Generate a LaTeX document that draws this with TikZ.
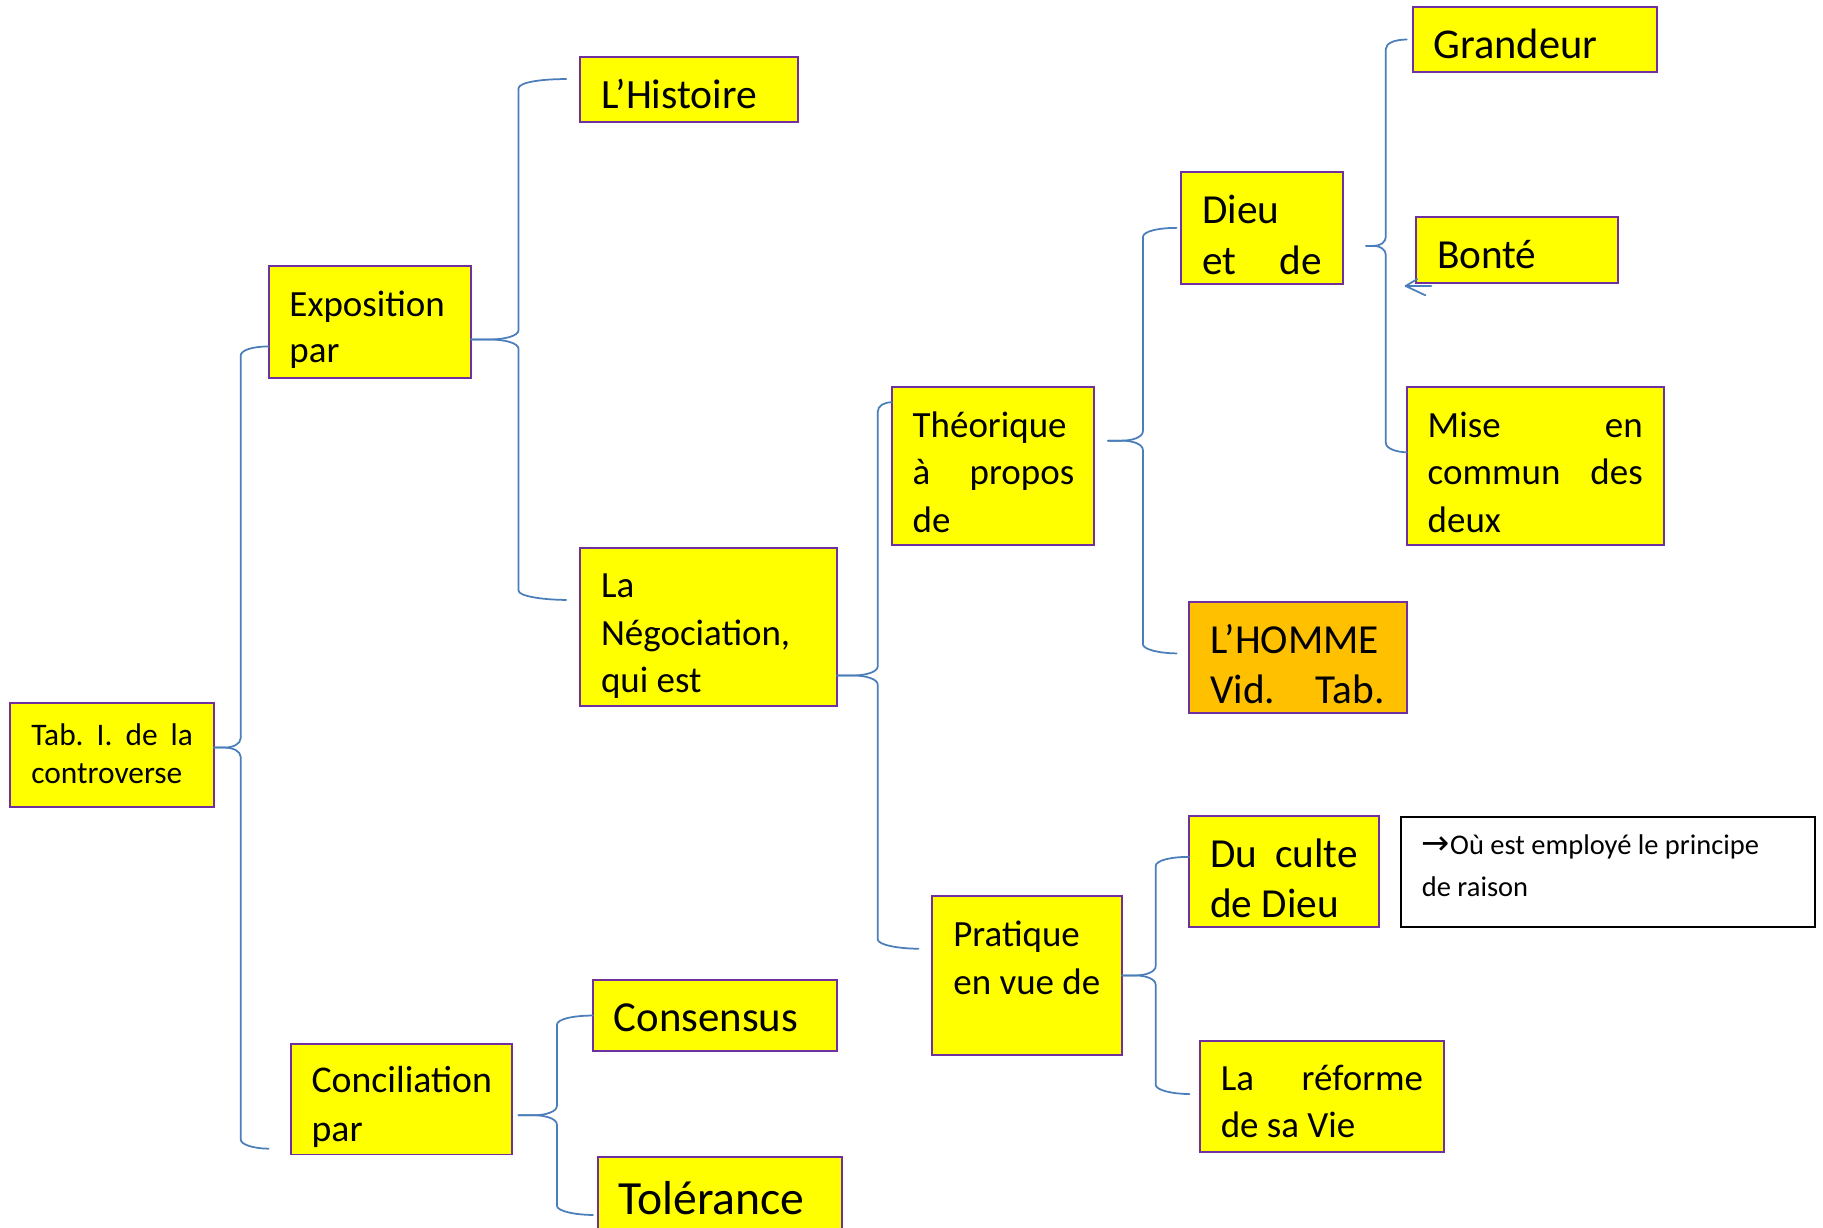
\documentclass[tikz,border=0pt]{standalone}
\usepackage{fontspec}
\setmainfont{Carlito}
\newfontfamily\symbolfont{DejaVu Sans}
\usetikzlibrary{calc}

\definecolor{boxyellow}{HTML}{FFFF00}
\definecolor{boxorange}{HTML}{FFC000}
\definecolor{framepurple}{HTML}{7030A0}
\definecolor{braceblue}{HTML}{4A7EBB}

% filled panel, given by its top-left and bottom-right corners
\newcommand\panel[6]{%
  \node[panel, fill=#2, minimum width={(#5-#3)*1pt}, minimum height={(#6-#4)*1pt}]
    (#1) at ({(#3+#5)/2},{(#4+#6)/2}) {};}

% text of a panel (clipped to it), then its frame
% #1 panel, #2 frame style, #3 size, #4 line skip, #5 #6 first baseline offset, #7 width, #8 text
\newcommand\paneltext[8]{%
  \begin{scope}
    \clip (#1.south west) rectangle (#1.north east);
    \node[anchor=base west, inner sep=0pt, outer sep=0pt, font=\fontsize{#3}{#4}\selectfont]
      (#1-text) at ($(#1.north west)+(#5,#6)$) {\parbox[t]{#7pt}{#8}};
  \end{scope}
  \draw[#2] (#1.south west) rectangle (#1.north east);}

% curly brace: #1 name, #2 parent node, #3 gap to tip, #4 spine offset, #5 top arm end, #6 bottom arm end
\newcommand\curlybrace[6]{%
  \coordinate (#1-top) at (#5);
  \coordinate (#1-bot) at (#6);
  \coordinate (#1-mid) at ($(#1-top)!0.5!(#1-bot)$);
  \coordinate (#1-tip) at ($(#1-mid -| #2.east)+(#3,0)$);
  \coordinate (#1-sp) at ($(#1-tip)+(#4,0)$);
  \coordinate (#1-a) at (#1-top -| #1-sp);
  \coordinate (#1-m) at (#1-mid -| #1-sp);
  \coordinate (#1-b) at (#1-bot -| #1-sp);
  \draw[bracestroke] (#1-top) .. controls ($(#1-top)!0.55!(#1-a)$) and ($(#1-a)+(0,3)$) .. ($(#1-a)+(0,8)$)
    -- ($(#1-m)+(0,-8)$) .. controls ($(#1-m)+(0,-3)$) and ($(#1-m)!0.3!(#1-tip)$) .. ($(#1-m)!0.6!(#1-tip)$)
    -- (#1-tip);
  \draw[bracestroke] (#1-tip) -- ($(#1-m)!0.6!(#1-tip)$)
    .. controls ($(#1-m)!0.3!(#1-tip)$) and ($(#1-m)+(0,3)$) .. ($(#1-m)+(0,8)$)
    -- ($(#1-b)+(0,-8)$) .. controls ($(#1-b)+(0,-3)$) and ($(#1-b)!0.55!(#1-bot)$) .. (#1-bot);}

\begin{document}
\begin{tikzpicture}[x=1pt, y=-1pt,
  panel/.style={rectangle, inner sep=0pt, outer sep=0pt, draw=none},
  panelframe/.style={draw=framepurple, line width=1.7pt},
  noteframe/.style={draw=black, line width=1.8pt},
  bracestroke/.style={draw=braceblue, line width=1.5pt, line cap=round, line join=round}]

\useasboundingbox (0,0) rectangle (1568,1056);
\fill[white] (0,0) rectangle (1568,1056);

% panels
\panel{tab}{boxyellow}{9}{605}{184}{694}
\panel{expo}{boxyellow}{231}{229}{405}{325}
\panel{hist}{boxyellow}{499}{49}{686}{105}
\panel{neg}{boxyellow}{499}{471}{720}{607}
\panel{theo}{boxyellow}{767}{333}{941}{469}
\panel{dieu}{boxyellow}{1016}{148}{1155}{244}
\panel{grand}{boxyellow}{1215}{6}{1425}{62}
\panel{bonte}{boxyellow}{1218}{187}{1392}{243}
\panel{mise}{boxyellow}{1210}{333}{1431}{469}
\panel{homme}{boxorange}{1023}{518}{1210}{613}
\panel{prat}{boxyellow}{802}{771}{965}{907}
\panel{culte}{boxyellow}{1023}{702}{1186}{797}
\panel{ref}{boxyellow}{1032}{895}{1242}{991}
\panel{note}{white}{1205}{703}{1561}{797}
\panel{conc}{boxyellow}{250}{898}{440}{993}
\panel{cons}{boxyellow}{510}{843}{720}{904}
\panel{tol}{boxyellow}{514}{995}{724}{1075}

% texts and frames
\paneltext{tab}{panelframe}{27}{33}{18}{36}{139}{Tab.\hfill I.\hfill de\hfill la\\controverse}
\paneltext{expo}{panelframe}{31.8}{40}{18}{43}{150}{Exposition\\par}
\paneltext{hist}{panelframe}{35.8}{42}{18}{44}{165}{L’Histoire}
\paneltext{neg}{panelframe}{31.8}{41}{18}{43}{200}{La\\Négociation,\\qui est}
\paneltext{theo}{panelframe}{31.8}{41}{18}{43}{139}{Théorique\\à\hfill propos\\de}
\paneltext{dieu}{panelframe}{35.5}{44}{18}{44}{103}{Dieu\\et\hfill de}
\paneltext{grand}{panelframe}{36.5}{42}{18}{44}{190}{Grandeur}
\paneltext{bonte}{panelframe}{35.5}{42}{18}{44}{150}{Bonté}
\paneltext{mise}{panelframe}{31.8}{41}{18}{43}{185}{Mise\hfill en\\commun\hfill des\\deux}
\paneltext{homme}{panelframe}{35.5}{43}{18}{44}{150}{L’HOMME\\Vid.\hfill Tab.}
\paneltext{prat}{panelframe}{31.8}{41}{18}{43}{140}{Pratique\\en vue de}
\paneltext{culte}{panelframe}{35.5}{43}{18}{44}{127}{Du\hfill culte\\de Dieu}
\paneltext{ref}{panelframe}{31.8}{40}{18}{43}{174}{La\hfill réforme\\de sa Vie}
\paneltext{note}{noteframe}{24.5}{36}{18}{32}{320}{{\symbolfont\fontsize{29}{36}\selectfont →}Où est employé le principe\\de raison}
\paneltext{conc}{panelframe}{32.5}{42}{18}{42}{170}{Conciliation\\par}
\paneltext{cons}{panelframe}{36.8}{42}{18}{44}{190}{Consensus}
\paneltext{tol}{panelframe}{41}{46}{18}{50}{190}{Tolérance}

% braces
\curlybrace{b1}{tab}{0}{23}{$(expo.west)+(0,21)$}{$(conc.south west)+(-19,-5)$}
\curlybrace{b2}{expo}{0}{41}{$(hist.west)+(-12,-9)$}{$(neg.west)+(-12,-23)$}
\curlybrace{b3}{neg}{0}{35}{$(theo.north west)+(0,13)$}{$(prat.west)+(-12,-23)$}
\curlybrace{b4}{theo}{12}{30}{$(dieu.west)+(-4,0)$}{$(homme.west)+(-11,-3.5)$}
\curlybrace{b5}{dieu}{20}{17}{$(grand.west)+(-5,0)$}{$(mise.north west)+(0,56)$}
\curlybrace{b6}{prat}{0}{29}{$(culte.west)+(0,-12.5)$}{$(ref.west)+(-9,-2)$}
\curlybrace{b7}{conc}{6}{33}{$(cons.west)+(0,0)$}{$(tol.north west)+(-4,50)$}

% small open arrow under Bonté
\coordinate (arr-tip) at ($(bonte.south west)+(-9,3)$);
\coordinate (arr-tail) at ($(bonte.south west)+(13,3)$);
\coordinate (arr-up) at ($(bonte.south west)+(1,-3)$);
\coordinate (arr-low) at ($(bonte.south west)+(8,11)$);
\draw[bracestroke] (arr-tail) -- (arr-tip);
\draw[bracestroke] (arr-up) -- (arr-tip) -- (arr-low);
\end{tikzpicture}
\end{document}
